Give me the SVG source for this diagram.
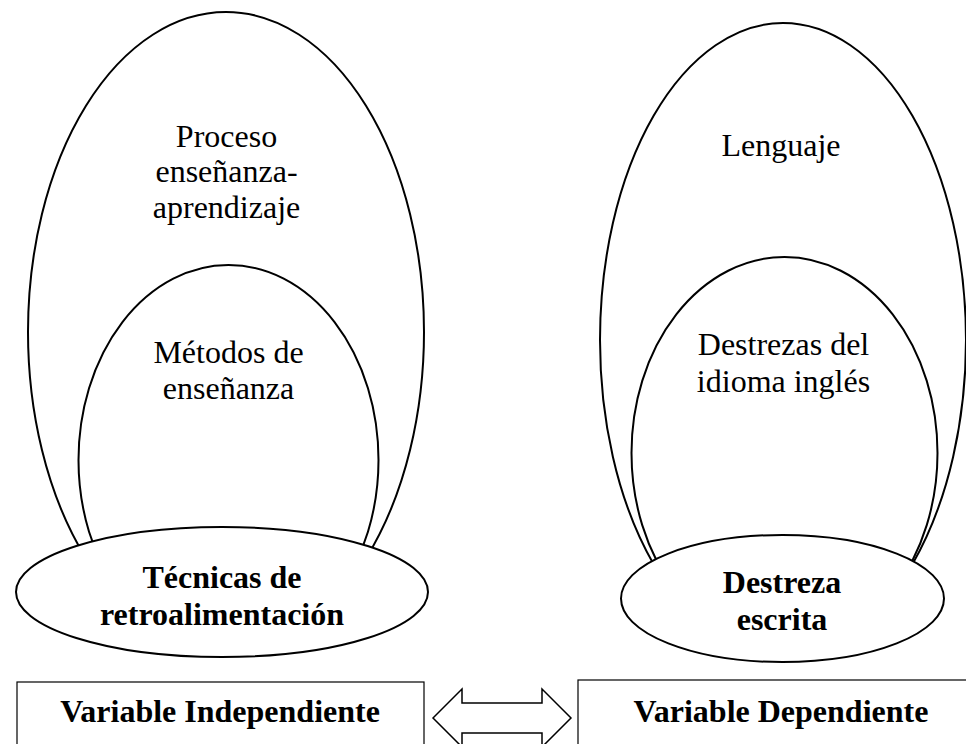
<svg xmlns="http://www.w3.org/2000/svg" width="966" height="744" viewBox="0 0 966 744">
<style>
.ell{fill:#fff;stroke:#000;stroke-width:2}
.box{fill:#fff;stroke:#000;stroke-width:1.2}
text{font-family:'Liberation Serif','DejaVu Serif',serif;font-size:32px;fill:#000;text-anchor:middle}
.b{font-weight:bold}
</style>
<rect width="966" height="744" fill="#fff"/>
<g id="proceso">
<ellipse class="ell" cx="226" cy="332" rx="198" ry="320"/>
<text x="226.5" y="147">Proceso</text>
<text x="226.5" y="182">enseñanza-</text>
<text x="226.5" y="218">aprendizaje</text>
</g>
<g id="metodos">
<ellipse class="ell" cx="228.5" cy="460" rx="150" ry="195"/>
<text x="228.5" y="363">Métodos de</text>
<text x="228.5" y="399">enseñanza</text>
</g>
<g id="tecnicas">
<ellipse class="ell" cx="222" cy="592" rx="206" ry="65"/>
<text class="b" x="222" y="588">Técnicas de</text>
<text class="b" x="222" y="625">retroalimentación</text>
</g>
<g id="lenguaje">
<ellipse class="ell" cx="783" cy="340" rx="183" ry="317"/>
<text x="781" y="156">Lenguaje</text>
</g>
<g id="destrezas">
<ellipse class="ell" cx="784.5" cy="453" rx="153" ry="196"/>
<text x="783.5" y="355">Destrezas del</text>
<text x="783.5" y="392">idioma inglés</text>
</g>
<g id="destreza-escrita">
<ellipse class="ell" cx="782.5" cy="598.5" rx="161.5" ry="63.5"/>
<text class="b" x="782" y="593">Destreza</text>
<text class="b" x="782" y="630">escrita</text>
</g>
<g id="var-independiente">
<rect class="box" x="17" y="682" width="407" height="80"/>
<text class="b" x="220" y="722">Variable Independiente</text>
</g>
<g id="var-dependiente">
<rect class="box" x="578" y="680" width="400" height="80"/>
<text class="b" x="781" y="722">Variable Dependiente</text>
</g>
<g id="connectors">
<polygon points="433,718 462,689 462,703 542,703 542,689 571,718 542,747 542,733 462,733 462,747" fill="#fff" stroke="#000" stroke-width="1.5"/>
</g>
</svg>
